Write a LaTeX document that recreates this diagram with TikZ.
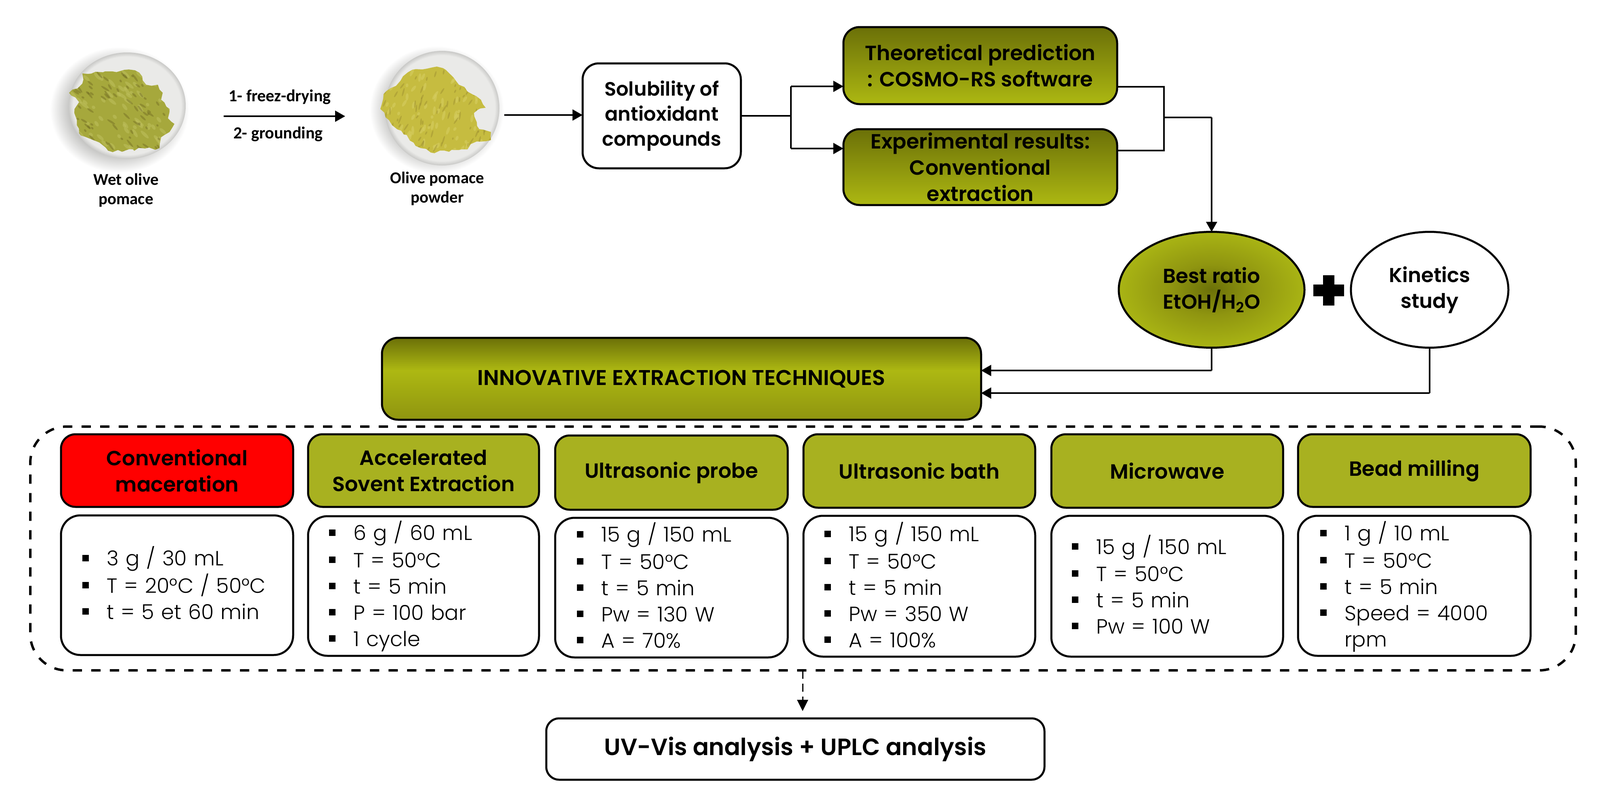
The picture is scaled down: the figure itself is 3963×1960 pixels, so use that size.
\documentclass[tikz,border=0pt]{standalone}
\usepackage{fontspec}
\setmainfont{Poppins}
\newfontfamily\hfont{Poppins SemiBold}
\newfontfamily\lfont{Poppins Light}
\newfontfamily\cfont{Carlito}
\usetikzlibrary{arrows.meta,shapes.geometric,decorations.pathmorphing}
\definecolor{olivedark}{HTML}{6B7008}
\definecolor{olivebright}{HTML}{ADB812}
\definecolor{olivemid}{HTML}{8F9510}
\definecolor{oliveflat}{HTML}{A8B120}
\definecolor{radend}{HTML}{A9B414}
\definecolor{plategray}{HTML}{EAEAE8}
\definecolor{platerim}{HTML}{C9C9C7}
\definecolor{shadowgray}{HTML}{BDBDBB}
\definecolor{wetfood}{HTML}{A6A83C}
\definecolor{wetspeck}{HTML}{6A6420}
\definecolor{wetlight}{HTML}{BDBE5A}
\definecolor{powderfood}{HTML}{C6BC40}
\definecolor{powderspeck}{HTML}{8E7F2A}
\definecolor{powderlight}{HTML}{D6CE60}
\pgfdeclareradialshading{bestrad}{\pgfpointorigin}{color(0bp)=(olivedark);color(11bp)=(olivemid);color(25bp)=(radend);color(50bp)=(radend)}
\pgfdeclareradialshading{halo}{\pgfpointorigin}{color(0bp)=(shadowgray);color(17bp)=(shadowgray);color(25bp)=(white);color(50bp)=(white)}
\pgfdeclareradialshading{platefade}{\pgfpointorigin}{color(0bp)=(plategray);color(23bp)=(plategray);color(25bp)=(platerim);color(50bp)=(platerim)}
\pgfdeclareverticalshading{innoshade}{100bp}{color(0bp)=(olivemid);color(25bp)=(olivemid);color(55bp)=(olivebright);color(75bp)=(olivedark);color(100bp)=(olivedark)}
\newcommand{\bigtxt}{\hfont\fontsize{25.5}{32.5}\selectfont}
\newcommand{\itm}[1]{\makebox[30pt][l]{\rule[5.7pt]{8pt}{8pt}}\rule[-6.75pt]{0pt}{32.5pt}#1}
\tikzset{
  w/.style={minimum width=#1*0.5pt},
  h/.style={minimum height=#1*0.5pt},
  base/.style={draw=black,line width=2.5pt,inner sep=0pt,outer sep=0pt,align=center,font=\bigtxt},
  whitebox/.style={base,rectangle,rounded corners=20pt,fill=white},
  gradbox/.style={base,rectangle,rounded corners=20pt,top color=olivedark,bottom color=olivebright},
  hdr/.style={base,rectangle,rounded corners=18pt,fill=oliveflat},
  hdrred/.style={hdr,fill=red},
  detail/.style={base,rectangle,rounded corners=24pt,fill=white},
  listtxt/.style={anchor=west,inner sep=0pt,text width=280pt,align=left,font=\lfont\fontsize{25.5}{32.5}\selectfont},
  photolabel/.style={inner sep=0pt,align=center,font=\cfont\bfseries\fontsize{20.5}{24}\selectfont},
  steplabel/.style={inner sep=0pt,align=center,font=\cfont\bfseries\fontsize{21}{24}\selectfont},
  link/.style={draw=black,line width=2.2pt},
  linkarrow/.style={link,-{Triangle[length=12.5pt,width=13.5pt]}},
  frame/.style={draw=black,line width=3pt,dash pattern=on 11.5pt off 11.5pt,rectangle,rounded corners=45pt,inner sep=0pt,outer sep=0pt},
  dasharrow/.style={draw=black,line width=1.5pt,dash pattern=on 10pt off 6pt,-{Triangle[length=14pt,width=13.5pt]}},
  rough/.style={decorate,decoration={random steps,segment length=6pt,amplitude=2pt}}
}
\begin{document}
\begin{tikzpicture}[x=0.5pt,y=-0.5pt]
\useasboundingbox (0,0) rectangle (3963,1960);
\fill[white] (0,0) rectangle (3963,1960);

% wet pomace photograph
\shade[shading=halo] (296,272) ellipse [x radius=172,y radius=156];
\shade[shading=platefade] (315,262) ellipse [x radius=145,y radius=132];
\begin{scope}
\path[rough,clip] (204,182)--(279,177)--(308,173)--(345,180)--(362,210)--(391,210)--(403,230)--(399,247)--(420,270)--(416,293)--(432,307)--(420,327)--(399,340)--(395,367)--(329,370)--(279,377)--(246,353)--(196,330)--(184,280)--(196,253)--(171,230)--(204,207)--cycle;
\fill[wetfood] (150,150) rectangle (450,400);
\pgfmathsetseed{4211}
\foreach \i in {1,...,90}{
  \pgfmathsetmacro{\px}{170+rnd*265}
  \pgfmathsetmacro{\py}{170+rnd*210}
  \pgfmathsetmacro{\pa}{-60+rnd*30}
  \pgfmathsetmacro{\pl}{4+rnd*10}
  \fill[wetlight,opacity=0.6,rotate around={\pa:(\px,\py)}] (\px,\py) ellipse [x radius=\pl,y radius=4];
}
\foreach \i in {1,...,90}{
  \pgfmathsetmacro{\px}{170+rnd*265}
  \pgfmathsetmacro{\py}{170+rnd*210}
  \pgfmathsetmacro{\pa}{-60+rnd*30}
  \pgfmathsetmacro{\pl}{3+rnd*9}
  \fill[wetspeck,opacity=0.4,rotate around={\pa:(\px,\py)}] (\px,\py) ellipse [x radius=\pl,y radius=2.5];
}
\end{scope}
\node[photolabel] (wet) at (312,471) {Wet olive\\pomace};

% powder photograph
\shade[shading=halo] (1082,272) ellipse [x radius=166,y radius=158];
\shade[shading=platefade] (1095,268) ellipse [x radius=142,y radius=142];
\begin{scope}
\path[rough,clip] (1021,173)--(1046,172)--(1071,167)--(1104,173)--(1129,200)--(1158,227)--(1191,247)--(1203,267)--(1174,280)--(1187,320)--(1216,327)--(1216,347)--(1166,357)--(1158,370)--(1100,373)--(1067,378)--(1042,367)--(1000,333)--(971,310)--(942,270)--(950,233)--(992,200)--cycle;
\fill[powderfood] (930,150) rectangle (1230,400);
\pgfmathsetseed{977}
\foreach \i in {1,...,90}{
  \pgfmathsetmacro{\px}{940+rnd*280}
  \pgfmathsetmacro{\py}{165+rnd*215}
  \pgfmathsetmacro{\pa}{50+rnd*40}
  \pgfmathsetmacro{\pl}{4+rnd*9}
  \fill[powderlight,opacity=0.6,rotate around={\pa:(\px,\py)}] (\px,\py) ellipse [x radius=\pl,y radius=3.5];
}
\foreach \i in {1,...,100}{
  \pgfmathsetmacro{\px}{940+rnd*280}
  \pgfmathsetmacro{\py}{165+rnd*215}
  \pgfmathsetmacro{\pa}{50+rnd*40}
  \pgfmathsetmacro{\pl}{3+rnd*8}
  \fill[powderspeck,opacity=0.35,rotate around={\pa:(\px,\py)}] (\px,\py) ellipse [x radius=\pl,y radius=2];
}
\end{scope}
\node[photolabel] (powder) at (1083,467) {Olive pomace\\powder};

% first arrow and its labels
\coordinate (wetout) at (554,288);
\coordinate (powderin) at (855,288);
\draw[linkarrow] (wetout) -- (powderin);
\node[steplabel] (fd) at (693,240) {1- freez-drying};
\node[steplabel] (gr) at (689,332) {2- grounding};

% upper flow boxes
\node[whitebox,w=392,h=260,font=\hfont\fontsize{24}{31}\selectfont] (solub) at (1639,287) {Solubility of\\antioxidant\\compounds};
\node[gradbox,w=678,h=191] (theo) at (2428,162.5) {Theoretical prediction\\: COSMO-RS software};
\node[gradbox,w=678,h=188] (expr) at (2428,414) {Experimental results:\\Conventional\\extraction};
\node[base,ellipse,w=460,h=287,shading=bestrad,font=\hfont\fontsize{25}{32}\selectfont] (best) at (3001,718) {Best ratio\\EtOH/H\textsubscript{2}O};
\node[base,ellipse,w=390,h=287,fill=white,font=\hfont\fontsize{25}{32}\selectfont] (kin) at (3541,718) {Kinetics\\study};
\fill[black] (3253,705) rectangle (3329,734) (3277,682) rectangle (3305,757);
\node[base,rectangle,rounded corners=20pt,w=1484,h=203,shading=innoshade,font=\hfont\fontsize{26.5}{32}\selectfont] (inno) at (1688,938.5) {INNOVATIVE EXTRACTION TECHNIQUES};

% connectors
\coordinate (powderout) at (1249,285);
\draw[linkarrow] (powderout) -- (solub.west |- powderout);
\coordinate (j1) at (1959,287);
\coordinate (j1t) at (1959,214);
\coordinate (j1b) at (1959,368);
\draw[link] (solub.east |- j1) -- (j1);
\draw[link] (j1t) -- (j1b);
\draw[linkarrow] (j1t) -- (j1t -| theo.west);
\draw[linkarrow] (j1b) -- (j1b -| expr.west);
\coordinate (j2t) at (2883,215);
\coordinate (j2b) at (2883,373);
\coordinate (j2m) at (2883,291);
\coordinate (j3) at (3001,291);
\draw[link] (j2t -| theo.east) -- (j2t) -- (j2b) -- (j2b -| expr.east);
\draw[link] (j2m) -- (j3);
\draw[linkarrow] (j3) -- (best.north);
\coordinate (j4) at (3001,918);
\coordinate (j5) at (3541,974);
\draw[link] (best.south) -- (j4);
\draw[linkarrow] (j4) -- (j4 -| inno.east);
\draw[link] (kin.south) -- (j5);
\draw[linkarrow] (j5) -- (j5 -| inno.east);

% dashed frame
\node[frame,w=3828,h=604] (group) at (1989,1359) {};

% technique headers
\node[hdrred,w=575,h=180] (h1) at (438.5,1166) {Conventional\\maceration};
\node[hdr,w=572,h=180] (h2) at (1049,1166) {Accelerated\\Sovent Extraction};
\node[hdr,w=576,h=184] (h3) at (1663,1171) {Ultrasonic probe};
\node[hdr,w=574,h=182] (h4) at (2277,1167) {Ultrasonic bath};
\node[hdr,w=574,h=182] (h5) at (2891,1167) {Microwave};
\node[hdr,w=576,h=180] (h6) at (3503,1166) {Bead milling};

% technique details
\node[detail,w=575,h=346] (d1) at (438.5,1450) {};
\node[detail,w=572,h=346] (d2) at (1049,1452) {};
\node[detail,w=576,h=346] (d3) at (1663,1456) {};
\node[detail,w=574,h=349] (d4) at (2277,1452.5) {};
\node[detail,w=574,h=349] (d5) at (2891,1452.5) {};
\node[detail,w=576,h=347] (d6) at (3503,1451.5) {};

\node[listtxt] (l1) at (204,1449) {\itm{3 g / 30 mL}\\\itm{T = 20°C / 50°C}\\\itm{t = 5 et 60 min}};
\node[listtxt] (l2) at (815,1451) {\itm{6 g / 60 mL}\\\itm{T = 50°C}\\\itm{t = 5 min}\\\itm{P = 100 bar}\\\itm{1 cycle}};
\node[listtxt] (l3) at (1429,1455) {\itm{15 g / 150 mL}\\\itm{T = 50°C}\\\itm{t = 5 min}\\\itm{Pw = 130 W}\\\itm{A = 70\%}};
\node[listtxt] (l4) at (2042,1454) {\itm{15 g / 150 mL}\\\itm{T = 50°C}\\\itm{t = 5 min}\\\itm{Pw = 350 W}\\\itm{A = 100\%}};
\node[listtxt] (l5) at (2655,1453) {\itm{15 g / 150 mL}\\\itm{T = 50°C}\\\itm{t = 5 min}\\\itm{Pw = 100 W}};
\node[listtxt] (l6) at (3270,1452) {\itm{1 g / 10 mL}\\\itm{T = 50°C}\\\itm{t = 5 min}\\\itm{Speed = 4000}\\\hspace*{30pt}\rule[-6.75pt]{0pt}{32.5pt}rpm};

% analysis
\node[whitebox,rounded corners=16pt,w=1234,h=152,font=\hfont\fontsize{29.2}{36}\selectfont] (uv) at (1970,1856) {UV-Vis analysis + UPLC analysis};
\coordinate (out) at (1988,1662);
\coordinate (outend) at (1988,1762);
\draw[dasharrow] (out) -- (outend);
\end{tikzpicture}
\end{document}
